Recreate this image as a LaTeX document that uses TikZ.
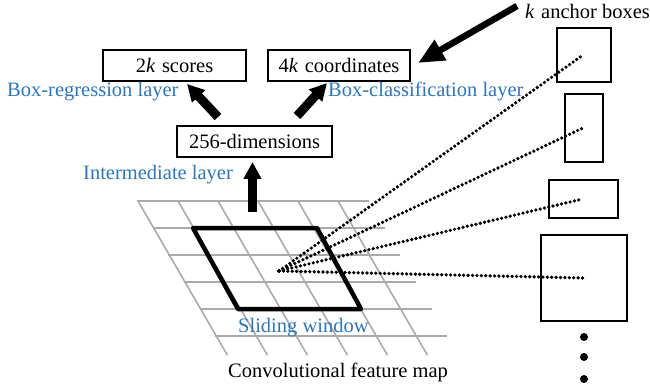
\documentclass[tikz,border=0pt]{standalone}
\usepackage{fontspec}
\setmainfont{Liberation Serif}
\usetikzlibrary{arrows.meta,calc}
\definecolor{labelblue}{RGB}{46,117,182}
\definecolor{gridgray}{RGB}{170,170,170}
\tikzset{
  txt/.style={inner sep=0pt, font=\fontsize{20.5}{24}\selectfont},
  bluetxt/.style={txt, text=labelblue},
  layerbox/.style={draw, line width=2pt, inner sep=0pt, txt},
  anchorbox/.style={draw, line width=2pt, inner sep=0pt},
  bigarrow/.style={line width=9pt, -{Triangle[length=17pt,width=17pt]}},
  thinarrow/.style={line width=6.5pt, -{Triangle[length=26pt,width=22pt]}},
  dotline/.style={line width=3.6pt, line cap=round, dash pattern=on 0pt off 4.4pt},
  gridline/.style={gridgray, line width=1.6pt},
  window/.style={line width=4.5pt, line join=round},
}
\begin{document}
\begin{tikzpicture}[x=1pt, y=-1pt]
\useasboundingbox (0,0) rectangle (650,390);

% convolutional feature map: sheared grid
\foreach \j in {0,...,5} {
  \pgfmathsetmacro{\yy}{201+27*\j}
  \pgfmathsetmacro{\xl}{138+0.58*27*\j}
  \draw[gridline] (\xl-1,\yy) -- (\xl+231,\yy);
}
\foreach \i in {0,...,5} {
  \draw[gridline] (138+40*\i,201) -- (227.3+40*\i,355);
}

% sliding window
\draw[window] (193,228) -- (317,228) -- (361,309) -- (238,309) -- cycle;

% layer boxes
\node[layerbox, minimum width=143pt, minimum height=31pt] (scores) at (174.5,65.5) {2\textit{k}\kern1.5pt\ scores};
\node[layerbox, minimum width=142pt, minimum height=31pt] (coords) at (339,65.5) {4\textit{k}\kern1.5pt\ coordinates};
\node[layerbox, minimum width=155pt, minimum height=31pt] (dims) at (254.5,141.5) {256-dimensions};

% labels
\node[bluetxt, anchor=base west] (reglbl) at (7,97) {Box-regression layer};
\node[bluetxt, anchor=base west] (clslbl) at (328,97) {Box-classification layer};
\node[bluetxt, anchor=base west] (interlbl) at (83,180) {Intermediate layer};
\node[bluetxt, anchor=base west] (slidelbl) at (238,332) {Sliding window};
\node[txt, anchor=base west] (maplbl) at (228,377) {Convolutional feature map};
\node[txt, anchor=base west] (anchorlbl) at (525,19) {\textit{k}\kern1.5pt\ anchor boxes};

% anchor boxes
\node[anchorbox, minimum width=54pt, minimum height=54pt] (a1) at (584,55) {};
\node[anchorbox, minimum width=38pt, minimum height=68pt] (a2) at (584,128) {};
\node[anchorbox, minimum width=69pt, minimum height=38pt] (a3) at (583.5,199) {};
\node[anchorbox, minimum width=86pt, minimum height=86pt] (a4) at (584,278) {};

% more anchors
\foreach \yy in {337,357,379} {
  \fill (584,\yy) circle (4pt);
}

% sliding-window centre and arrow start on the map
\coordinate (wc) at (279,271);
\coordinate (mapin) at (252.5,212);

% dotted rays to the anchor boxes
\foreach \b in {a1,a2,a3,a4} {
  \draw[dotline] (wc) -- ([shift={(-1,0)}]\b.center);
}

% arrows
\draw[bigarrow] (mapin) -- ([shift={(-2,4)}]dims.south);
\draw[bigarrow] ([shift={(-36.5,-8)}]dims.north) -- ([shift={(12.5,2)}]scores.south);
\draw[bigarrow] ([shift={(42.5,-9)}]dims.north) -- ([shift={(-12,1)}]coords.south);
\draw[thinarrow] ([shift={(-8,-6)}]anchorlbl.west) -- ([shift={(7,-2.5)}]coords.east);
\end{tikzpicture}
\end{document}
